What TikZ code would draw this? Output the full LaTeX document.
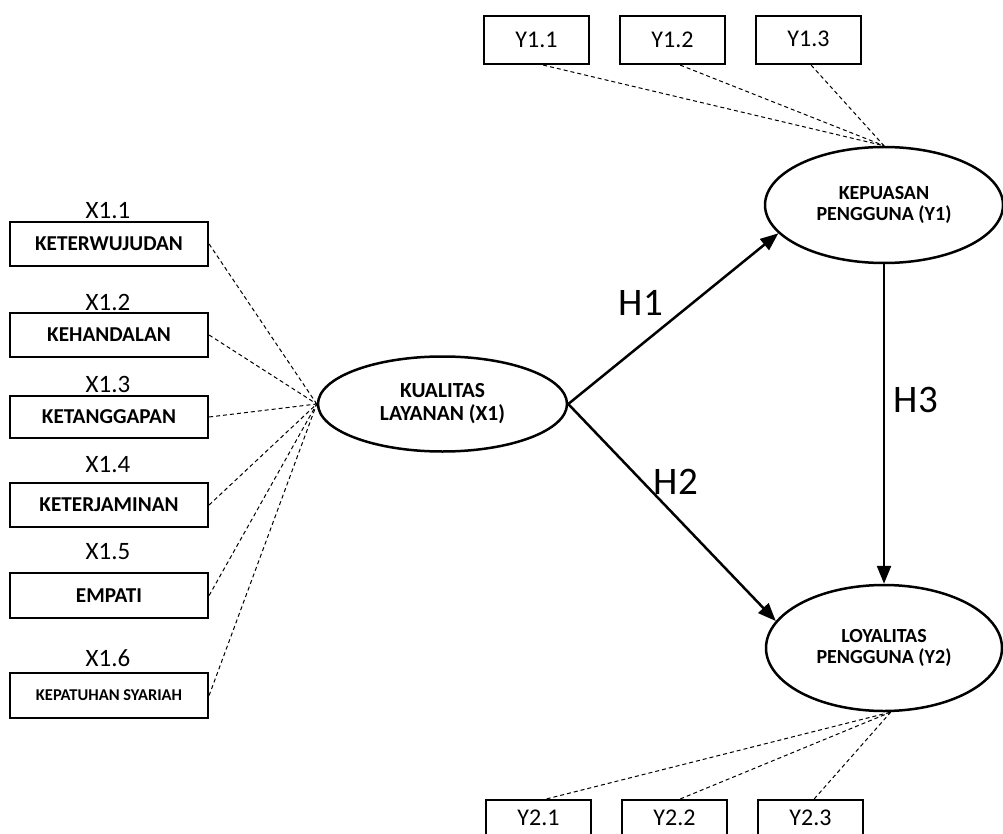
\documentclass[tikz,border=0pt]{standalone}
\usepackage{fontspec}
\setmainfont{Carlito}
\usetikzlibrary{arrows.meta,shapes.geometric}
\begin{document}
\begin{tikzpicture}[x=1pt,y=-1pt,
  indbox/.style={draw,line width=2.2pt,minimum width=198pt,minimum height=44pt,inner sep=0pt,
    font=\fontsize{21.2}{24}\selectfont\bfseries},
  xlab/.style={inner sep=0pt,font=\fontsize{25}{28}\selectfont},
  ybox/.style={draw,line width=2.2pt,minimum width=105pt,minimum height=48pt,inner sep=0pt,
    font=\fontsize{24}{27}\selectfont},
  latent/.style={draw,ellipse,line width=2.5pt,inner sep=0pt,align=center,
    font=\fontsize{20}{21}\selectfont\bfseries},
  hlab/.style={inner sep=0pt,font=\fontsize{39}{42}\selectfont},
  load/.style={dash pattern=on 4pt off 3pt,line width=1pt},
  path/.style={line width=2.5pt,-{Triangle[length=18pt,width=14pt]}}
]
\useasboundingbox (0,0) rectangle (1003,834);
\clip (0,0) rectangle (1003,834);

% indicator boxes X1
\node[indbox] (b1) at (109,244) {KETERWUJUDAN};
\node[indbox] (b2) at (109,335) {KEHANDALAN};
\node[indbox,minimum height=42pt] (b3) at (109,417) {KETANGGAPAN};
\node[indbox] (b4) at (109,505) {KETERJAMINAN};
\node[indbox,minimum height=45pt] (b5) at (109,595.5) {EMPATI};
\node[indbox,minimum height=45pt,font=\fontsize{16.5}{19}\selectfont\bfseries] (b6) at (109,695.5) {KEPATUHAN SYARIAH};

\node[xlab] (l1) at (108,211) {X1.1};
\node[xlab] (l2) at (108,302) {X1.2};
\node[xlab] (l3) at (108,384) {X1.3};
\node[xlab] (l4) at (108,465) {X1.4};
\node[xlab] (l5) at (108,552) {X1.5};
\node[xlab] (l6) at (108,658) {X1.6};

% latent variables
\node[latent,minimum width=249pt,minimum height=95pt,font=\fontsize{21.5}{23}\selectfont\bfseries] (kua) at (442.5,404) {KUALITAS\\LAYANAN (X1)};
\node[latent,minimum width=238pt,minimum height=116pt] (kep) at (884,205) {KEPUASAN\\PENGGUNA (Y1)};
\node[latent,minimum width=236pt,minimum height=126pt] (loy) at (884,648) {LOYALITAS\\PENGGUNA (Y2)};

% Y boxes
\node[ybox] (y11) at (536.5,40) {Y1.1};
\node[ybox] (y12) at (672.5,40) {Y1.2};
\node[ybox] (y13) at (808.5,40) {\raisebox{3pt}{Y1.3}};
\node[ybox,minimum height=36pt] (y21) at (538.5,818) {Y2.1};
\node[ybox,minimum height=36pt] (y22) at (674.5,818) {Y2.2};
\node[ybox,minimum height=36pt] (y23) at (810.5,818) {Y2.3};

% loadings
\foreach \b in {b1,b2,b3,b4,b5,b6}
  \draw[load] (\b.east) -- (kua.west);
\draw[load] (y11.-75) -- (kep.north);
\draw[load] (y12.-73) -- (kep.north);
\draw[load] (y13.-84) -- (kep.north);
\draw[load] (y21.67) -- (loy.-84);
\draw[load] (y22.73) -- (loy.-84);
\draw[load] (y23.79) -- (loy.-84);

% structural paths
\draw[path] (kua.east) -- (kep.195);
\draw[path] (kua.east) -- (loy.166);
\draw[path] (kep.south) -- (loy.north);

\node[hlab] (h1) at (641,303) {H1};
\node[hlab] (h2) at (676,482) {H2};
\node[hlab] (h3) at (916,400) {H3};
\end{tikzpicture}
\end{document}
